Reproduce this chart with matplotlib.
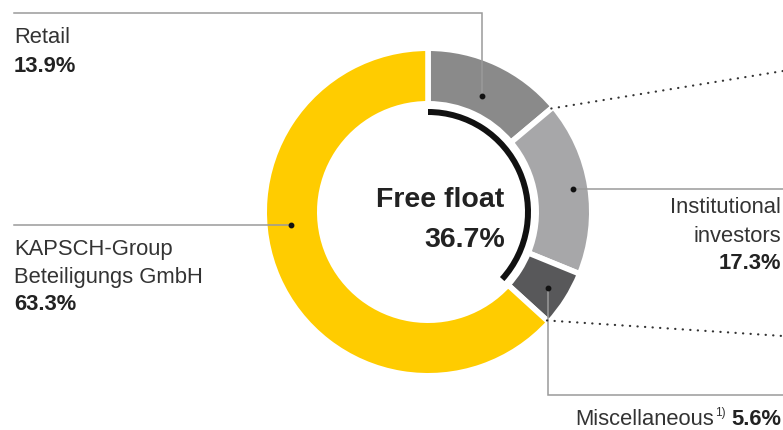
import matplotlib
matplotlib.use('Agg')
import matplotlib.pyplot as plt
from matplotlib.patches import Wedge
import numpy as np

plt.rcParams['font.family'] = ['Liberation Sans', 'DejaVu Sans']

# ---- data ----
categories = ['Retail', 'Institutional investors', 'Miscellaneous', 'KAPSCH-Group Beteiligungs GmbH']
shares = [13.9, 17.3, 5.6, 63.3]
free_float = 36.7
colors = ['#8a8a8a', '#a7a7a9', '#58585a', '#ffcc00']

W, H = 783, 430
fig = plt.figure(figsize=(W / 100, H / 100), dpi=100)
ax = fig.add_axes([0, 0, 1, 1])


def Y(yimg):
    return H - yimg


cx, cy = 428, Y(212)
R, ring = 161, 50
gap_lw = 4.0
pad = gap_lw / 72 * 100 / 2

wedges, _ = ax.pie(shares, colors=colors, startangle=90, counterclock=False,
                   radius=R + pad, center=(cx, cy), frame=True,
                   wedgeprops=dict(width=ring + 2 * pad, edgecolor='white',
                                   linewidth=gap_lw))
ax.set_xlim(0, W)
ax.set_ylim(0, H)
ax.set_aspect('equal')
ax.axis('off')

# free float arc
ax.add_patch(Wedge((cx, cy), 103, 90 - 3.6 * free_float, 90, width=6,
                   facecolor='#111111', edgecolor='none'))


def polar(ang, r):
    a = np.deg2rad(ang)
    return cx + r * np.cos(a), cy + r * np.sin(a)


def mid(w):
    return (w.theta1 + w.theta2) / 2


line_c = '#9a9a9a'
lw = 1.1

# Retail leader
x, y = polar(mid(wedges[0]), 128)
ax.plot([14, x, x], [Y(13), Y(13), y], color=line_c, lw=lw, solid_joinstyle='miter')
ax.plot(x, y, 'o', color='#111111', ms=3.2)

# Institutional leader
x, y = polar(mid(wedges[1]), 147)
ax.plot([x, W], [y, y], color=line_c, lw=lw)
ax.plot(x, y, 'o', color='#111111', ms=3.2)

# Miscellaneous leader
x, y = polar(mid(wedges[2]), 142)
ax.plot([x, x, W], [y, Y(395), Y(395)], color=line_c, lw=lw, solid_joinstyle='miter')
ax.plot(x, y, 'o', color='#111111', ms=3.2)

# KAPSCH leader (horizontal line meets the ring's middle on the left side)
ly = Y(225)
rm = R - ring / 2 + 2
x = cx - np.sqrt(rm ** 2 - (ly - cy) ** 2)
ax.plot([14, x], [ly, ly], color=line_c, lw=lw)
ax.plot(x, ly, 'o', color='#111111', ms=3.2)

# dotted lines from segment boundaries
for ang, yend in [(wedges[0].theta1, Y(71)), (wedges[2].theta1, Y(336))]:
    x0, y0 = polar(ang, R)
    ax.plot([x0, W], [y0, yend], color='#333333', lw=1.6,
            linestyle=(0, (0.1, 3.3)), dash_capstyle='round')

reg = dict(fontsize=15.8, color='#333333', va='baseline')
bold = dict(fontsize=15.8, color='#222222', va='baseline', fontweight='bold')

ax.text(14, Y(43), 'Retail', **reg)
ax.text(14, Y(72), f'{shares[0]:.1f}%', **bold)

ax.text(14, Y(255), 'KAPSCH-Group', **reg)
ax.text(14, Y(283), 'Beteiligungs GmbH', **reg)
ax.text(14, Y(310), f'{shares[3]:.1f}%', **bold)

ax.text(781, Y(213), 'Institutional', ha='right', **reg)
ax.text(781, Y(242), 'investors', ha='right', **reg)
ax.text(781, Y(269), f'{shares[1]:.1f}%', ha='right', **bold)

ax.text(504, Y(207), 'Free float', ha='right', va='baseline', fontsize=20.5,
        fontweight='bold', color='#222222')
ax.text(505, Y(247), f'{free_float:.1f}%', ha='right', va='baseline', fontsize=20.5,
        fontweight='bold', color='#222222')

# Miscellaneous composite label
fig.canvas.draw()
renderer = fig.canvas.get_renderer()
tb = ax.text(781, Y(425), f'{shares[2]:.1f}%', ha='right', **bold)
bb = tb.get_window_extent(renderer)
ts = ax.text(bb.x0 - 5, Y(416), '1)', ha='right', va='baseline', fontsize=8.5,
             color='#333333')
bs = ts.get_window_extent(renderer)
ax.text(bs.x0 - 1, Y(425), 'Miscellaneous', ha='right', **reg)

fig.savefig('out.png', dpi=100)
